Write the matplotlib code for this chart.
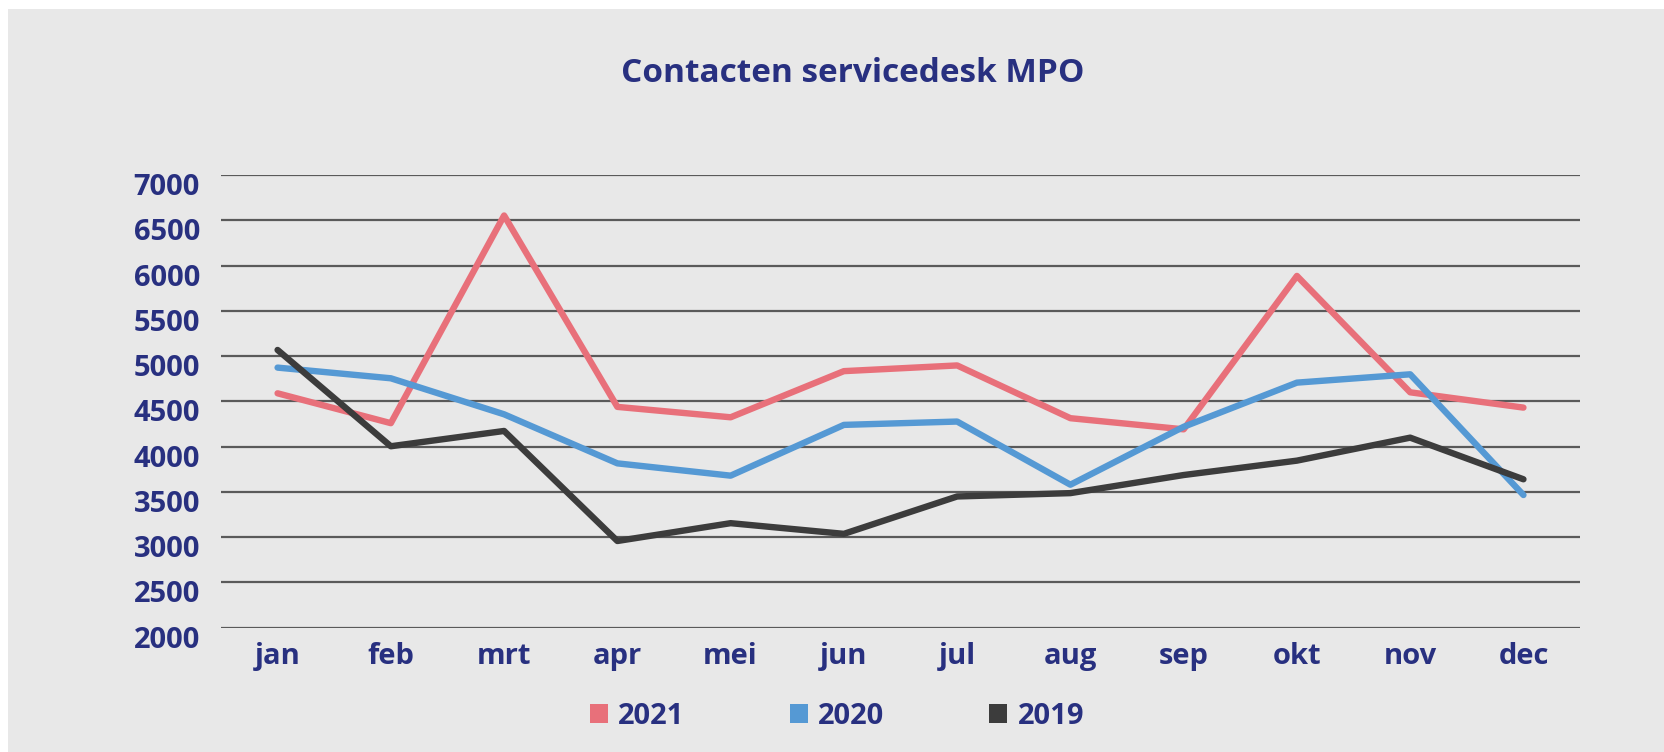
import matplotlib
matplotlib.use("Agg")
import matplotlib.pyplot as plt
from matplotlib.patches import Patch, Rectangle
from matplotlib.transforms import ScaledTranslation

months = ["jan", "feb", "mrt", "apr", "mei", "jun", "jul", "aug", "sep", "okt", "nov", "dec"]
contacts_2021 = [4590, 4260, 6555, 4440, 4325, 4835, 4898, 4315, 4192, 5887, 4601, 4432]
contacts_2020 = [4874, 4756, 4358, 3816, 3680, 4241, 4278, 3580, 4220, 4708, 4800, 3466]
contacts_2019 = [5069, 4005, 4174, 2958, 3155, 3037, 3450, 3487, 3687, 3846, 4100, 3640]
yticks = [2000, 2500, 3000, 3500, 4000, 4500, 5000, 5500, 6000, 6500, 7000]

NAVY = "#283080"
BG = "#e8e8e8"
series = [
    ("2021", contacts_2021, "#e8707a"),
    ("2020", contacts_2020, "#5599d4"),
    ("2019", contacts_2019, "#3c3c3c"),
]

plt.rcParams["font.family"] = ["Open Sans", "DejaVu Sans"]

fig = plt.figure(figsize=(16.65, 7.52), dpi=100)
fig.patch.set_facecolor("white")
fig.patches.append(Rectangle((8.5 / 1665, 0), 1, 1 - 9 / 752, transform=fig.transFigure,
                             facecolor=BG, edgecolor="none", zorder=-10))

ax = fig.add_axes([0.1327, 0.1653, 0.8163, 0.6017])
ax.set_facecolor("none")

x = list(range(len(months)))
for label, vals, color in series:
    ax.plot(x, vals, color=color, lw=4.6, solid_capstyle="round",
            solid_joinstyle="round", label=label, zorder=3)

ax.set_xlim(-0.5, len(months) - 0.5)
ax.set_ylim(2000, 7000)
ax.set_yticks(yticks)
ax.set_xticks(x)
ax.set_xticklabels(months)
for spine in ax.spines.values():
    spine.set_visible(False)
ax.grid(axis="y", color="#5a5a5a", lw=1.6, zorder=1)
ax.tick_params(axis="both", length=0, labelsize=21, labelcolor=NAVY)
ax.tick_params(axis="y", pad=15)
ax.tick_params(axis="x", pad=10)
for t in ax.get_xticklabels() + ax.get_yticklabels():
    t.set_fontweight("bold")

# y labels sit a little below their gridlines in the original
shift = ScaledTranslation(0, -0.09, fig.dpi_scale_trans)
for tick in ax.yaxis.get_major_ticks():
    tick.label1.set_transform(tick.label1.get_transform() + shift)

fig.text(853 / 1665, 1 - 74 / 752, "Contacten servicedesk MPO", ha="center", va="center",
         fontsize=24, fontweight="bold", color=NAVY)

handles = [Patch(facecolor=c, edgecolor="none", label=l) for l, _, c in series]
leg = fig.legend(handles=handles, loc="center", bbox_to_anchor=(837 / 1665, 1 - 716 / 752),
                 ncol=3, frameon=False, fontsize=21, handlelength=0.62, handleheight=0.62,
                 handletextpad=0.35, columnspacing=3.6)
for t in leg.get_texts():
    t.set_color(NAVY)
    t.set_fontweight("bold")

fig.savefig("out.png", dpi=100)
